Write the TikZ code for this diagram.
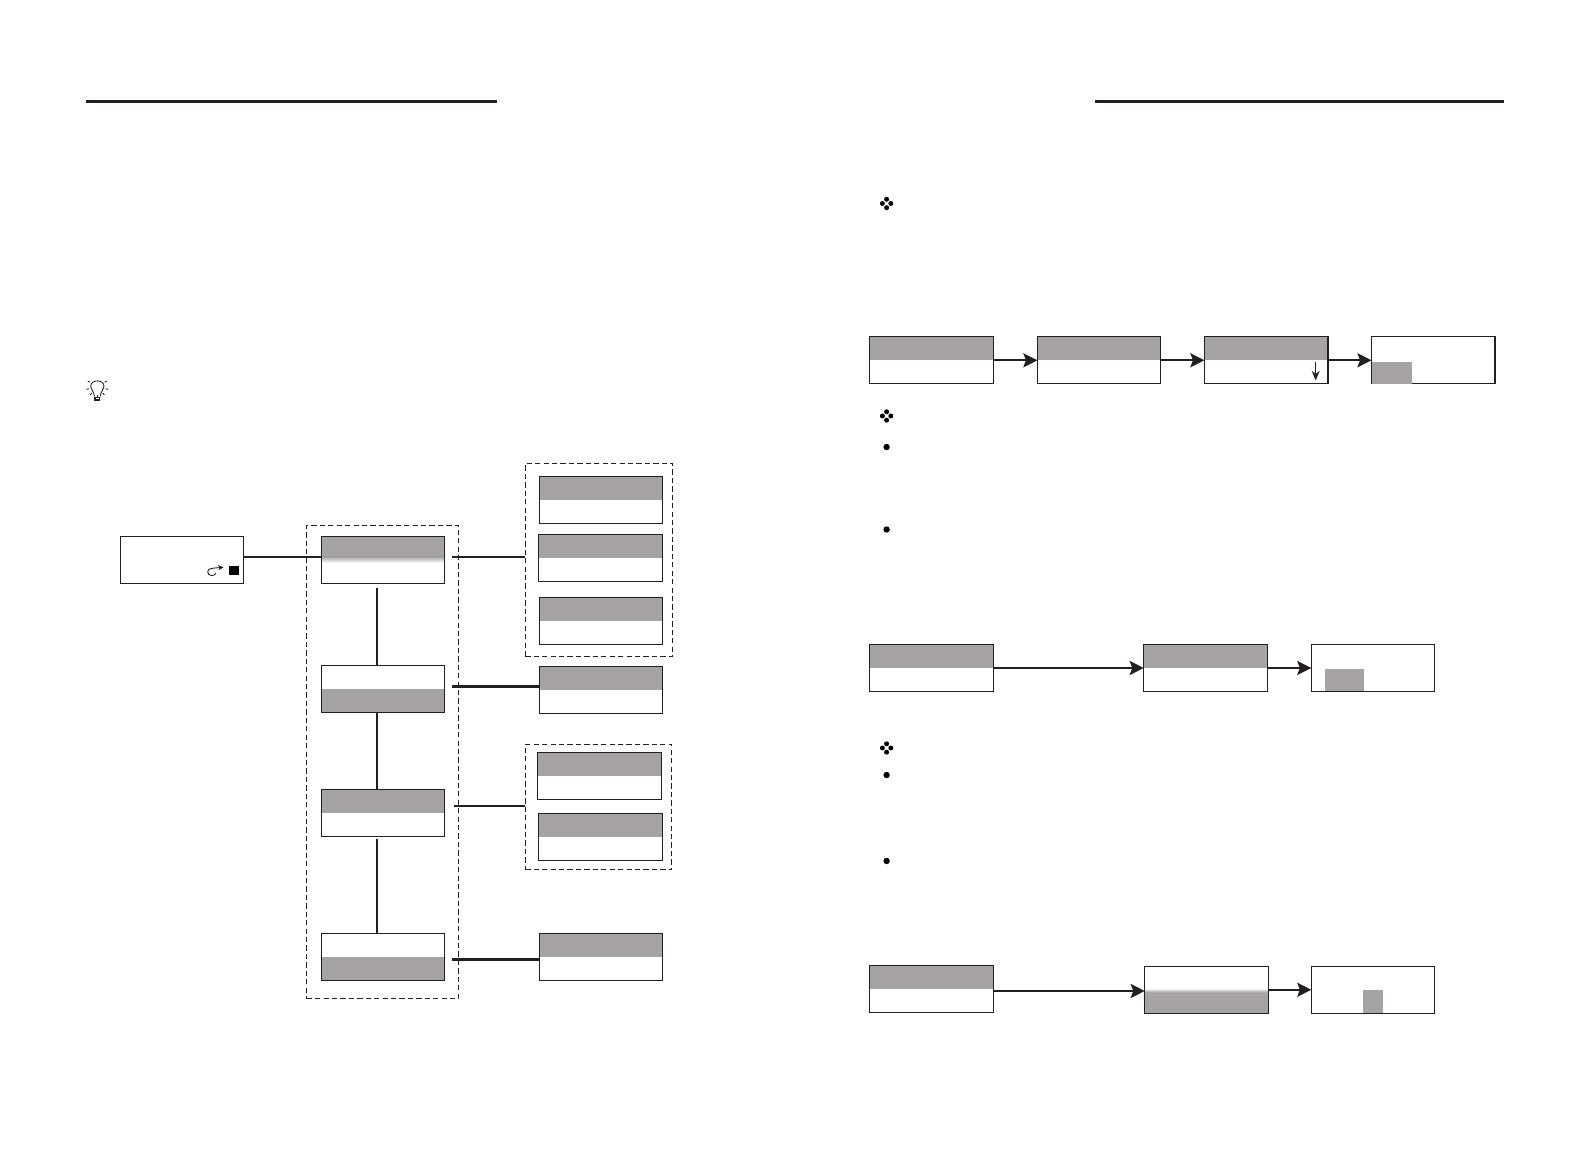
\documentclass[tikz,border=0pt]{standalone}
\usepackage{amsmath,amssymb,amsfonts}
\usepackage{xcolor}
\usepackage{tikz}
\usetikzlibrary{arrows.meta}
\definecolor{menugray}{HTML}{A5A3A4}
\definecolor{inkline}{HTML}{231F20}
\tikzset{
  screen/.style={draw=inkline,line width=0.7pt,anchor=north west,inner sep=0pt,outer sep=0pt,minimum width=2.47cm,minimum height=0.94cm},
  screenup/.style={screen,path picture={\fill[menugray] (path picture bounding box.north west) rectangle (path picture bounding box.east);}},
  screendown/.style={screen,path picture={\fill[menugray] (path picture bounding box.west) rectangle (path picture bounding box.south east);}},
  group/.style={draw=inkline,line width=0.6pt,dash pattern=on 3pt off 1.8pt,anchor=north west,inner sep=0pt,outer sep=0pt},
  link/.style={draw=inkline,line width=1.2pt},
  flow/.style={draw=inkline,line width=1.2pt,-{Stealth[length=8pt,width=8pt,inset=1.5pt]}},
  rule/.style={draw=inkline,line width=1.3pt}
}
\begin{document}
\begin{tikzpicture}[x=0.02cm,y=-0.02cm]
  \useasboundingbox (0,0) rectangle (1587,1151);
  \draw[rule] (86,101.5) -- (497,101.5);
  \draw[rule] (1095,101.5) -- (1504,101.5);

  % lamp
  \draw[inkline,line width=0.5pt] (94.5,396.5) .. controls (94,391) and (90.7,390) .. (90.7,386.5) .. controls (90.7,379) and (104,379) .. (104,386.5) .. controls (104,390) and (100.7,391) .. (100.2,396.5);
  \draw[inkline,line width=0.6pt] (95,397.3) rectangle (99.7,400);
  \foreach \a in {-30,15,50,90,130,165,210} {
    \draw[inkline,line width=0.5pt] (97.3,386.5) ++(\a:8.5) -- ++(\a:2.6);
  }

  % left tree
  \node[group,minimum width=3.04cm,minimum height=9.47cm] (groupmain) at (306.7,525.3) {};
  \node[group,minimum width=2.95cm,minimum height=3.85cm] (groupa) at (525.3,463.7) {};
  \node[group,minimum width=2.93cm,minimum height=2.51cm] (groupc) at (525.3,744.4) {};

  \node[screen] (lcd) at (120.3,536.3) {};
  \fill[black] (229,566) rectangle (239,575);
  \draw[inkline,line width=0.5pt,-{Stealth[length=3pt,width=3pt]}] (216,573.3) .. controls (214.5,576.5) and (207.7,576.5) .. (207.7,571.7) .. controls (207.7,568) and (213,568.2) .. (223.5,567.3);

  \fill[menugray] (321.3,536.3) rectangle (444.8,556.7);
  \shade[top color=menugray,bottom color=white] (321.3,556.7) rectangle (444.8,562.7);
  \node[screen] (menua) at (321.3,536.3) {};
  \node[screendown] (menub) at (321.3,665.5) {};
  \node[screenup] (menuc) at (321.3,789.5) {};
  \node[screendown] (menud) at (321.3,933.5) {};

  \node[screenup] (suba) at (539.3,476.3) {};
  \node[screenup,minimum width=2.49cm] (subb) at (538.3,534.3) {};
  \node[screenup] (subc) at (539.3,597.5) {};
  \node[screenup] (subd) at (539.4,666.5) {};
  \node[screenup,minimum width=2.49cm] (sube) at (537.4,752.5) {};
  \node[screenup,minimum width=2.49cm] (subf) at (538.4,813.2) {};
  \node[screenup] (subg) at (539.4,933.5) {};

  \coordinate (outa) at (452.4,557);
  \coordinate (outb) at (452.4,686.5);
  \coordinate (outc) at (454.4,805.6);
  \coordinate (outd) at (452.4,959.5);
  \coordinate (vera) at (377,588);
  \coordinate (verc) at (377,839);

  \draw[link] (lcd.east |- outa) -- (menua.west |- outa);
  \draw[link] (outa) -- (outa -| groupa.west);
  \draw[link] (outb) -- (outb -| subd.west);
  \draw[link] (outc) -- (outc -| groupc.west);
  \draw[link] (outd) -- (outd -| subg.west);
  \draw[link] (vera) -- (vera |- menub.north);
  \draw[link] (vera |- menub.south) -- (vera |- menuc.north);
  \draw[link] (verc) -- (verc |- menud.north);

  % first row
  \node[screenup,minimum width=2.49cm] (rowaa) at (869.4,336.8) {};
  \node[screenup] (rowab) at (1037.4,336.8) {};
  \node[screenup] (rowac) at (1204.4,336.8) {};
  \node[screen] (rowad) at (1371.5,336.8) {};
  \fill[menugray] (1372,361.8) rectangle (1412,383.8);
  \coordinate (downa) at (1315.7,362.5);
  \coordinate (downb) at (1315.7,380.5);
  \draw[inkline,line width=0.8pt,-{Stealth[length=5.5pt,width=4.5pt]}] (downa) -- (downb);
  \draw[flow] (rowaa) -- (rowab);
  \draw[flow] (rowab) -- (rowac);
  \draw[flow] (rowac) -- (rowad);

  % second row
  \node[screenup,minimum width=2.49cm] (rowba) at (869.4,644.5) {};
  \node[screenup] (rowbb) at (1143.7,644.5) {};
  \node[screen] (rowbc) at (1311.3,644.5) {};
  \fill[menugray] (1324.9,668.8) rectangle (1364.3,691.5);
  \draw[flow] (rowba) -- (rowbb);
  \draw[flow] (rowbb) -- (rowbc);

  % third row
  \node[screenup,minimum width=2.49cm] (rowca) at (869.4,965.3) {};
  \fill[menugray] (1144.7,992.3) rectangle (1268.2,1013.2);
  \shade[top color=white,bottom color=menugray] (1144.7,988.3) rectangle (1268.2,992.3);
  \node[screen] (rowcb) at (1144.7,966.3) {};
  \node[screen] (rowcc) at (1311.3,966.3) {};
  \fill[menugray] (1363.3,990.3) rectangle (1382.6,1013);
  \coordinate (flowc) at (993,991);
  \draw[flow] (flowc) -- (flowc -| rowcb.west);
  \draw[flow] (rowcb) -- (rowcc);

  % page marks
  \foreach \y in {203.5,416,748} {
    \foreach \dx/\dy in {0/-4.2,0/4.2,-4.2/0,4.2/0} {
      \fill[black] (886.6+\dx,\y+\dy) circle (2.5);
    }
  }
  \foreach \y in {447,529.5,775,861} {
    \fill[black] (886.6,\y) circle (3.2);
  }
\end{tikzpicture}
\end{document}
